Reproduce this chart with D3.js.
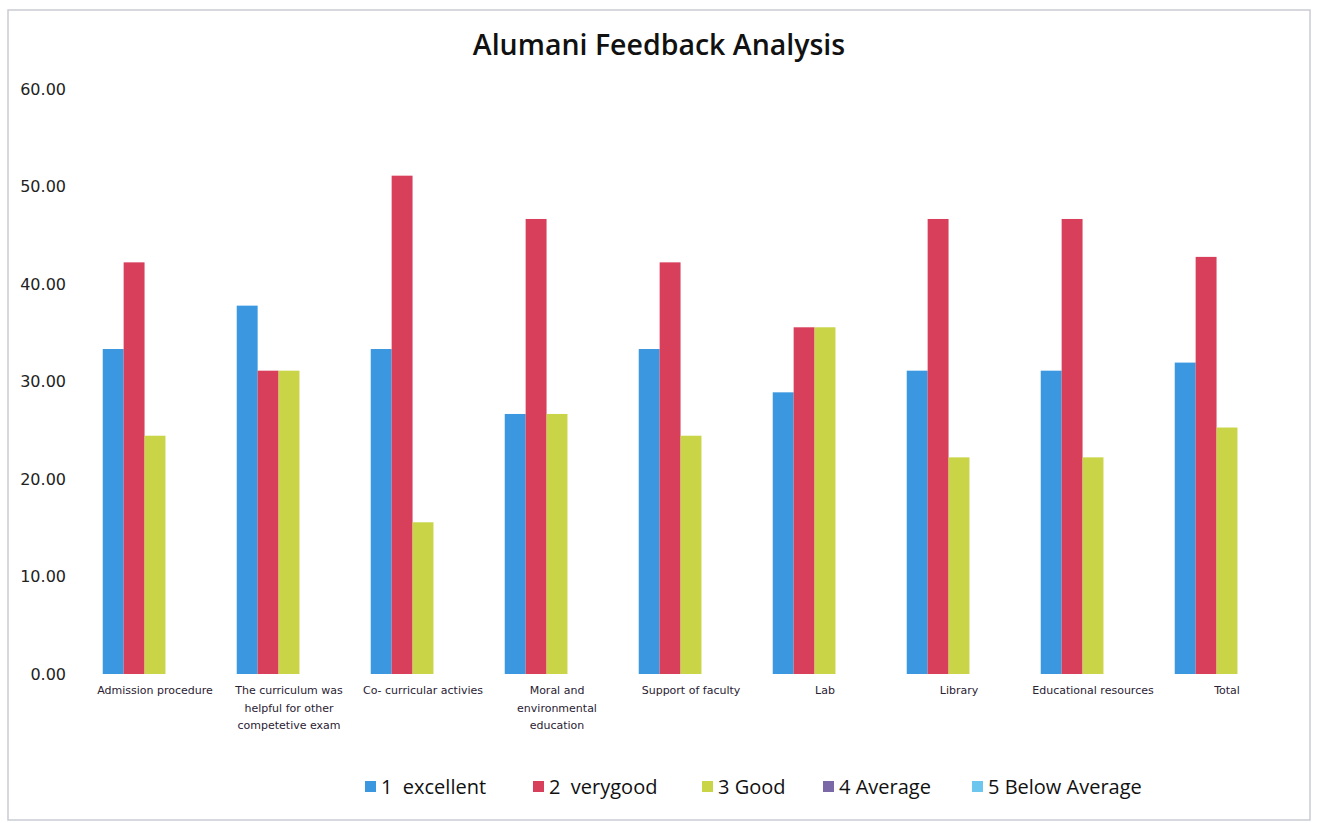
<!DOCTYPE html>
<html><head><meta charset="utf-8">
<script src="https://cdn.jsdelivr.net/npm/d3@7"></script>
<style>body{margin:0;background:#fff;}svg{display:block;}</style>
</head><body>
<svg id="c" width="1317" height="823"></svg>
<script>
const categories = ["Admission procedure","The curriculum was helpful for other competetive exam","Co- curricular activies","Moral and environmental education","Support of faculty","Lab","Library","Educational resources","Total"];
const seriesNames = ["1  excellent","2  verygood","3 Good","4 Average","5 Below Average"];
const excellent = [33.33,37.78,33.33,26.67,33.33,28.89,31.11,31.11,31.94];
const verygood  = [42.22,31.11,51.11,46.67,42.22,35.56,46.67,46.67,42.78];
const good      = [24.44,31.11,15.56,26.67,24.44,35.56,22.22,22.22,25.28];
const average   = [0,0,0,0,0,0,0,0,0];
const belowAvg  = [0,0,0,0,0,0,0,0,0];
const yTicks = [0,10,20,30,40,50,60];
const colors = ["#3b97df","#d83f5b","#c9d447","#7b68a6","#6cc6ee"];
const series = [excellent,verygood,good,average,belowAvg];

const svg = d3.select("#c");
svg.append("rect").attr("x",8).attr("y",10).attr("width",1302).attr("height",810)
  .attr("fill","#fff").attr("stroke","#c9ccd2").attr("stroke-width",1.5);

svg.append("text").attr("x",659).attr("y",55).attr("text-anchor","middle")
  .attr("font-family","Open Sans").attr("font-weight",600).attr("font-size",28.5)
  .attr("fill","#111").text("Alumani Feedback Analysis");

const x0 = d3.scaleBand().domain(categories).range([88,1294]).paddingInner(0.22).paddingOuter(0.11);
const x1 = d3.scaleBand().domain(d3.range(5)).range([0,x0.bandwidth()]);
const y = d3.scaleLinear().domain([0,60]).range([674,89]);

const yAxis = d3.axisLeft(y).tickValues(yTicks).tickFormat(d3.format(".2f")).tickSize(0).tickPadding(0);
const gy = svg.append("g").attr("transform","translate(66,0)").call(yAxis);
gy.select(".domain").remove();
gy.selectAll("text").attr("font-family","DejaVu Sans").attr("font-size",16).attr("fill","#222");

const g = svg.append("g");
categories.forEach((c,i)=>{
  series.forEach((s,j)=>{
    if(s[i]<=0) return;
    g.append("rect").attr("x",x0(c)+x1(j)).attr("width",x1.bandwidth())
      .attr("y",y(s[i])).attr("height",y(0)-y(s[i])).attr("fill",colors[j]);
  });
});

const xAxis = d3.axisBottom(x0).tickSize(0).tickPadding(0);
const gx = svg.append("g").attr("transform","translate(0,684)").call(xAxis);
gx.select(".domain").remove();
gx.selectAll("text").attr("font-family","DejaVu Sans").attr("font-size",11).attr("fill","#2a2233")
  .attr("dy","0.9em").each(function(d){
    const t = d3.select(this); const words = d.split(" "); t.text(null);
    let line=[], tsp=t.append("tspan").attr("x",0).attr("dy","0.9em");
    words.forEach(w=>{
      line.push(w); tsp.text(line.join(" "));
      if(tsp.node().getComputedTextLength()>122 && line.length>1){
        line.pop(); tsp.text(line.join(" ")); line=[w];
        tsp=t.append("tspan").attr("x",0).attr("dy","1.6em").text(w);
      }
    });
  });

const legX = [365,533,702,823,972];
const leg = svg.append("g");
seriesNames.forEach((n,j)=>{
  leg.append("rect").attr("x",legX[j]).attr("y",781).attr("width",11).attr("height",11).attr("fill",colors[j]);
  leg.append("text").attr("x",legX[j]+16).attr("y",794).attr("font-family","Open Sans").attr("font-size",20)
    .attr("fill","#111").text(n).style("white-space","pre");
});
</script>
</body></html>
